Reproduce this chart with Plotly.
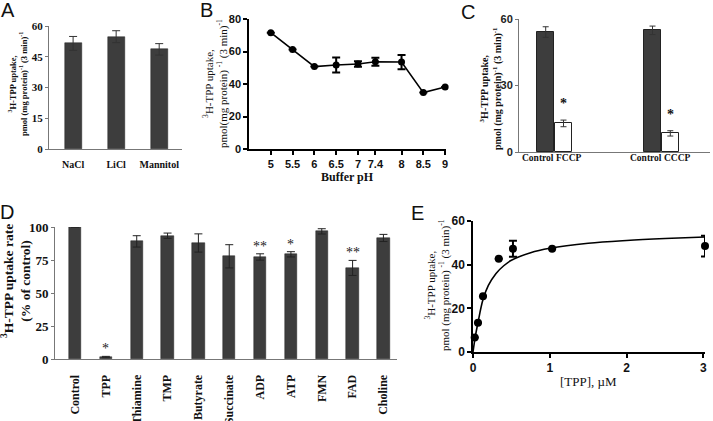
import plotly.graph_objects as go

W, H = 713, 421

# ---------------- data ----------------
A_cats = ["NaCl", "LiCl", "Mannitol"]
A_vals = [51.5, 54.8, 48.6]
A_err = [3.4, 2.9, 2.8]

B_ph = [5, 5.5, 6, 6.5, 7, 7.4, 8, 8.5, 9]
B_vals = [71.6, 61.3, 50.7, 51.7, 52.3, 53.7, 53.5, 34.7, 38.2]
B_err = [0, 0, 0, 4.6, 1.7, 2.5, 4.4, 0, 0]

C_labels = ["Control", "FCCP", "Control", "CCCP"]
C_vals = [54.1, 12.9, 54.9, 8.4]
C_err = [2.4, 1.5, 1.9, 1.2]
C_sig = ["", "*", "", "*"]

D_cats = ["Control", "TPP", "Thiamine", "TMP", "Butyrate", "Succinate",
          "ADP", "ATP", "FMN", "FAD", "Choline"]
D_vals = [100, 1.5, 89.1, 93.4, 87.9, 77.8, 77.3, 79.3, 96.7, 69.0, 91.7]
D_err = [0, 0.5, 4.3, 2.0, 6.9, 8.8, 2.4, 2.0, 2.0, 5.7, 2.7]
D_sig = ["", "*", "", "", "", "", "**", "*", "", "**", ""]

E_x = [0.022, 0.065, 0.13, 0.335, 0.52, 1.03, 3.02]
E_y = [6.6, 13.4, 25.5, 42.7, 47.3, 47.3, 48.5]
E_err = [0, 0, 0, 0, 3.7, 0, 4.8]
E_fit_x = [0, 0.03, 0.065, 0.13, 0.2, 0.3, 0.4, 0.5, 0.75, 1.0, 1.5, 2.0, 2.5, 3.02]
E_fit_y = [0, 7.0, 13.5, 24.0, 30.5, 36.0, 39.5, 42.0, 45.5, 47.5, 49.8, 51.1, 52.0, 52.7]

# ---------------- helpers ----------------
def px(x):
    return x / W

def py(y):
    return 1 - y / H

SERIF = "Liberation Serif, Times New Roman, serif"
SANS = "Liberation Sans, Arial, sans-serif"
BAR = "#3d3d3d"

fig = go.Figure()

# A
fig.add_trace(go.Bar(x=list(range(len(A_cats))), y=A_vals, width=0.4,
                     marker=dict(color=BAR, line=dict(color="#222", width=0.5)),
                     error_y=dict(type="data", array=A_err, color="#333", thickness=1, width=4),
                     xaxis="x", yaxis="y", showlegend=False))
# B
fig.add_trace(go.Scatter(x=B_ph, y=B_vals, mode="lines+markers", cliponaxis=False,
                         line=dict(color="black", width=1.6),
                         marker=dict(color="black", size=7),
                         error_y=dict(type="data", array=B_err, color="black", thickness=2, width=4),
                         xaxis="x2", yaxis="y2", showlegend=False))
# C
C_pos = [g * 6 + k + 1.5 for g in range(2) for k in range(2)]
C_colors = [BAR if i % 2 == 0 else "white" for i in range(len(C_vals))]
fig.add_trace(go.Bar(x=C_pos, y=C_vals, width=0.95,
                     marker=dict(color=C_colors, line=dict(color="#222", width=1)),
                     error_y=dict(type="data", array=C_err, color="#333", thickness=1, width=3),
                     xaxis="x3", yaxis="y3", showlegend=False))
# D
fig.add_trace(go.Bar(x=list(range(len(D_cats))), y=D_vals, width=0.4,
                     marker=dict(color=BAR, line=dict(color="#222", width=0.5)),
                     error_y=dict(type="data", array=D_err, color="#222", thickness=1, width=4),
                     xaxis="x4", yaxis="y4", showlegend=False))
# E
fig.add_trace(go.Scatter(x=E_fit_x, y=E_fit_y, mode="lines", line_shape="spline",
                         line=dict(color="black", width=1.6), cliponaxis=False,
                         xaxis="x5", yaxis="y5", showlegend=False, hoverinfo="skip"))
fig.add_trace(go.Scatter(x=E_x, y=E_y, mode="markers", cliponaxis=False,
                         marker=dict(color="black", size=8),
                         error_y=dict(type="data", array=E_err, color="black", thickness=2, width=4),
                         xaxis="x5", yaxis="y5", showlegend=False))

def bold(size, fam, color="#111"):
    return dict(family=fam, size=size, color=color, weight="bold")

common_axis = dict(showgrid=False, zeroline=False, showline=True, mirror=False,
                   automargin=False)

fig.update_layout(
    template="none",
    width=W, height=H, margin=dict(l=0, r=0, t=0, b=0, autoexpand=False),
    paper_bgcolor="white", plot_bgcolor="white",
    bargap=0,
    # A
    xaxis=dict(domain=[px(49), px(182)], range=[-0.56, 2.53], anchor="y",
               tickmode="array", tickvals=list(range(len(A_cats))), ticktext=A_cats,
               ticks="", tickfont=bold(10, SERIF), linecolor="#777", linewidth=1,
               ticklabelstandoff=6, **common_axis),
    yaxis=dict(domain=[py(149), py(26)], range=[0, 60], anchor="x",
               tickvals=[0, 15, 30, 45, 60], ticks="outside", ticklen=3, tickcolor="#777",
               tickfont=bold(11, SERIF), linecolor="#777", linewidth=1, **common_axis),
    # B
    xaxis2=dict(domain=[px(249), px(446)], range=[4.5, 9.02], anchor="y2",
                tickvals=B_ph, ticktext=[str(v) for v in B_ph],
                ticks="outside", ticklen=4, tickwidth=1.5, tickcolor="black",
                tickfont=bold(11, SANS), linecolor="black", linewidth=1.5, **common_axis),
    yaxis2=dict(domain=[py(149), py(19)], range=[0, 80], anchor="x2",
                tickvals=[0, 20, 40, 60, 80], ticks="outside", ticklen=4, tickwidth=1.5,
                tickcolor="black", tickfont=bold(11, SANS), linecolor="black", linewidth=1.5,
                **common_axis),
    # C
    xaxis3=dict(domain=[px(519), px(710)], range=[0, 10.73], anchor="y3",
                tickmode="array", tickvals=[], ticks="",
                linecolor="#777", linewidth=1, **common_axis),
    yaxis3=dict(domain=[py(152), py(19)], range=[0, 60], anchor="x3",
                tickvals=[0, 30, 60], ticks="outside", ticklen=3, tickcolor="#777",
                tickfont=bold(11, SANS, "#222"), linecolor="#777", linewidth=1, **common_axis),
    # D
    xaxis4=dict(domain=[px(55), px(397)], range=[-0.65, 10.44], anchor="y4",
                tickmode="array", tickvals=list(range(len(D_cats))), ticktext=D_cats,
                ticks="", tickangle=-90, tickfont=bold(12, SERIF), linecolor="#777",
                linewidth=1, ticklabelstandoff=10, **common_axis),
    yaxis4=dict(domain=[py(359), py(227)], range=[0, 100], anchor="x4",
                tickvals=[0, 25, 50, 75, 100], ticks="outside", ticklen=3, tickcolor="#777",
                tickfont=bold(13, SERIF), linecolor="#777", linewidth=1, **common_axis),
    # E
    xaxis5=dict(domain=[px(473), px(705)], range=[0, 3.02], anchor="y5",
                tickvals=[0, 1, 2, 3], ticks="outside", ticklen=4, tickwidth=1.5,
                tickcolor="black", tickfont=bold(12, SANS), linecolor="black",
                linewidth=1.5, **common_axis),
    yaxis5=dict(domain=[py(352), py(221)], range=[0, 60], anchor="x5",
                tickvals=[0, 20, 40, 60], ticks="outside", ticklen=4, tickwidth=1.5,
                tickcolor="black", tickfont=bold(12, SANS), linecolor="black",
                linewidth=1.5, **common_axis),
)

ann = []

def panel_letter(t, x, y):
    ann.append(dict(text=t, x=px(x), y=py(y), xref="paper", yref="paper",
                    showarrow=False, xanchor="center", yanchor="middle",
                    font=dict(family=SANS, size=20, color="#111")))

panel_letter("A", 8, 10)
panel_letter("B", 206, 10)
panel_letter("C", 468, 12)
panel_letter("D", 7, 212)
panel_letter("E", 417, 213)

def ytitle(text, x, y, size, fam, weight_bold=True):
    ann.append(dict(text=("<b>" + text + "</b>") if weight_bold else text,
                    x=px(x), y=py(y), xref="paper", yref="paper",
                    showarrow=False, textangle=-90, xanchor="center", yanchor="middle",
                    font=dict(family=fam, size=size, color="#111")))

ytitle("<sup>3</sup>H-TPP uptake,<br>pmol (mg protein)<sup>-1</sup> (3 min)<sup>-1</sup>",
       18, 84, 8.5, SERIF)
ytitle("<sup>3</sup>H-TPP uptake,<br>pmol(mg protein) <sup>-1</sup> (3 min)<sup>-1</sup>",
       215, 84, 11, SERIF, False)
ytitle("<sup>3</sup>H-TPP uptake,<br>pmol (mg protein)<sup>-1</sup> (3 min)<sup>-1</sup>",
       491, 88, 10, SERIF)
ytitle("<sup>3</sup>H-TPP uptake rate<br>(% of control)", 16, 281, 13.5, SERIF)
ytitle("<sup>3</sup>H-TPP uptake,<br>pmol (mg protein) <sup>-1</sup> (3 min)<sup>-1</sup>",
       437, 285, 11, SERIF, False)

# x titles
ann.append(dict(text="<b>Buffer pH</b>", x=px(347), y=py(177), xref="paper", yref="paper",
                showarrow=False, xanchor="center", yanchor="middle",
                font=dict(family=SERIF, size=12, color="#111")))
ann.append(dict(text="[TPP], µM", x=px(588), y=py(381), xref="paper", yref="paper",
                showarrow=False, xanchor="center", yanchor="middle",
                font=dict(family=SERIF, size=13, color="#111")))

# C category labels (offset from bar centres as in the reference)
C_label_px = [538, 569, 646, 677]
for lab, xpix in zip(C_labels, C_label_px):
    ann.append(dict(text="<b>" + lab + "</b>", x=px(xpix), y=py(158), xref="paper",
                    yref="paper", showarrow=False, xanchor="center", yanchor="middle",
                    font=dict(family=SERIF, size=9.5, color="#111")))

# significance stars
for xp, v, e, s in zip(C_pos, C_vals, C_err, C_sig):
    if s:
        ann.append(dict(text="<b>" + s + "</b>", x=xp, y=v + e, xref="x3", yref="y3",
                        showarrow=False, xanchor="center", yanchor="bottom", yshift=7,
                        font=dict(family=SERIF, size=14, color="#111")))
for i, (v, e, s) in enumerate(zip(D_vals, D_err, D_sig)):
    if s:
        ann.append(dict(text=s, x=i, y=v + e, xref="x4", yref="y4",
                        showarrow=False, xanchor="center", yanchor="bottom", yshift=-2,
                        font=dict(family=SERIF, size=14, color="#222")))

fig.update_layout(annotations=ann)
fig.write_html("out.html", config={"displayModeBar": False},
               post_script="document.body.style.margin='0px';"
                           "document.body.style.overflow='hidden';")
